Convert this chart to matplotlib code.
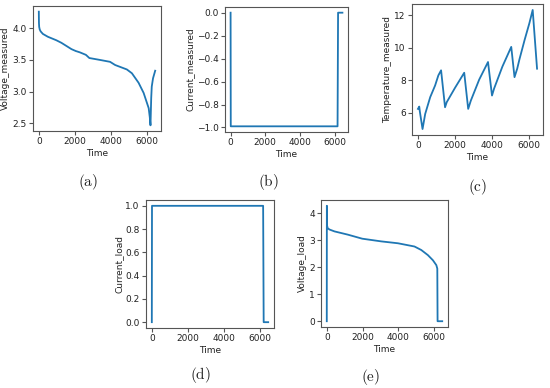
import matplotlib
matplotlib.use("Agg")
import matplotlib.pyplot as plt

# ---- data ----
t_a = [0, 2, 8, 20, 50, 100, 224, 500, 970, 1250, 1530, 1810, 2050, 2270, 2610, 2800, 3390,
       3950, 4230, 4880, 5160, 5530, 5810, 6090, 6150, 6190, 6230, 6260, 6330, 6450]
v_meas = [4.26, 4.2, 4.08, 4.02, 3.98, 3.95, 3.91, 3.865, 3.81, 3.77, 3.72, 3.67, 3.64, 3.62,
          3.58, 3.53, 3.50, 3.47, 3.42, 3.35, 3.29, 3.14, 2.98, 2.74, 2.6, 2.47,
          2.9, 3.08, 3.21, 3.33]

t_b = [0, 10, 6170, 6200, 6450]
i_meas = [0.0, -0.99, -0.99, 0.0, 0.0]

t_c = [0, 70, 100, 247, 390, 660, 925, 1100, 1246, 1460, 1550, 2000, 2493, 2707,
       2850, 3300, 3775, 3990, 4100, 4550, 5027, 5203, 5348, 5470, 5750, 6000,
       6182, 6417]
temp_meas = [6.25, 6.39, 6.1, 5.01, 5.94, 6.97, 7.69, 8.31, 8.62, 6.35, 6.66, 7.55,
             8.47, 6.25, 6.76, 8.05, 9.13, 7.07, 7.49, 8.85, 10.06, 8.2, 8.72, 9.3,
             10.5, 11.5, 12.33, 8.72]

t_d = [0, 10, 6170, 6200, 6450]
i_load = [0.0, 1.0, 1.0, 0.0, 0.0]

t_e = [0, 5, 15, 50, 150, 430, 1175, 1980, 3040, 3975, 4900, 5280, 5650, 5930,
       6120, 6175, 6190, 6450]
v_load = [0.0, 4.28, 3.55, 3.45, 3.4, 3.33, 3.21, 3.06, 2.96, 2.89, 2.77, 2.64,
          2.45, 2.26, 2.08, 1.95, 0.0, 0.0]

xticks = [0, 2000, 4000, 6000]
captions = ["(a)", "(b)", "(c)", "(d)", "(e)"]
ylabels = ["Voltage_measured", "Current_measured", "Temperature_measured",
           "Current_load", "Voltage_load"]

plt.rcParams.update({
    "font.size": 6.5,
    "axes.linewidth": 0.8,
    "axes.edgecolor": "#555555",
    "xtick.color": "#555555",
    "ytick.color": "#555555",
    "xtick.labelcolor": "#222222",
    "ytick.labelcolor": "#222222",
    "mathtext.fontset": "cm",
})

W, H = 550, 388
fig = plt.figure(figsize=(5.5, 3.88), dpi=100)

def rect(x0, y0, x1, y1):
    return [x0 / W, 1 - y1 / H, (x1 - x0) / W, (y1 - y0) / H]

boxes = [rect(33, 6, 161, 131), rect(225, 7, 348, 132), rect(412, 4, 543, 135),
         rect(146, 200, 274, 328), rect(321, 200, 448, 327)]
series = [(t_a, v_meas), (t_b, i_meas), (t_c, temp_meas), (t_d, i_load), (t_e, v_load)]
cap_pos = [(88, 182), (268, 182), (478, 187), (200, 375), (371, 377)]

for k, (box, (tx, ty)) in enumerate(zip(boxes, series)):
    ax = fig.add_axes(box)
    ax.plot(tx, ty, color="#1f77b4", lw=1.3)
    ax.set_xticks(xticks)
    ax.set_xlabel("Time", fontsize=6.5, color="#222222", labelpad=2)
    ax.set_ylabel(ylabels[k], fontsize=6.5, color="#222222", labelpad=1.5)
    ax.tick_params(labelsize=6.5, length=3, pad=1.5)
    if k == 1:
        ax.set_yticks([0.0, -0.2, -0.4, -0.6, -0.8, -1.0])
    if k == 3:
        ax.set_yticks([0.0, 0.2, 0.4, 0.6, 0.8, 1.0])
    if k == 4:
        ax.set_yticks([0, 1, 2, 3, 4])
    cx, cy = cap_pos[k]
    fig.text(cx / W, 1 - cy / H, r"$\mathrm{" + captions[k] + "}$", fontsize=11,
             ha="center", va="center", color="#222222")

fig.savefig("out.png", dpi=100)
